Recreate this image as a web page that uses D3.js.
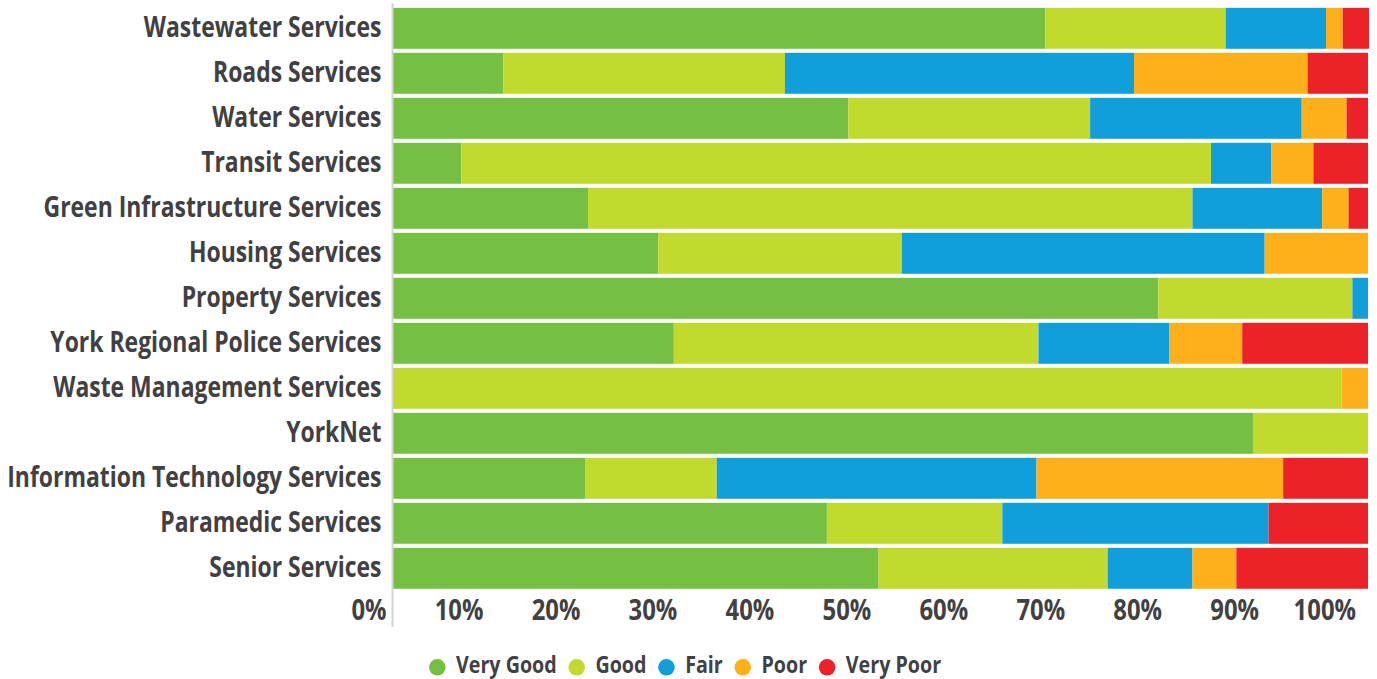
<!DOCTYPE html>
<html>
<head>
<meta charset="utf-8">
<script src="https://cdn.jsdelivr.net/npm/d3@7"></script>
<style>
  html, body { margin: 0; padding: 0; background: #ffffff; }
  svg { display: block; }
  text { font-family: "Open Sans", "Noto Sans", sans-serif; font-weight: 700; fill: #414042; }
</style>
</head>
<body>
<svg id="chart" width="1377" height="679"></svg>
<script>
// ---------- data ----------
const categories = [
  "Wastewater Services",
  "Roads Services",
  "Water Services",
  "Transit Services",
  "Green Infrastructure Services",
  "Housing Services",
  "Property Services",
  "York Regional Police Services",
  "Waste Management Services",
  "YorkNet",
  "Information Technology Services",
  "Paramedic Services",
  "Senior Services"
];
const seriesNames = ["Very Good", "Good", "Fair", "Poor", "Very Poor"];
const veryGood = [66.9, 11.3, 46.7, 7.0, 20.0, 27.2, 78.5, 28.8, 0.0, 88.2, 19.7, 44.5, 49.8];
const good     = [18.5, 28.9, 24.8, 76.9, 62.0, 25.0, 19.9, 37.4, 97.3, 11.8, 13.5, 18.0, 23.5];
const fair     = [10.3, 35.8, 21.7, 6.2, 13.3, 37.2, 1.6, 13.4, 0.0, 0.0, 32.8, 27.3, 8.7];
const poor     = [1.7, 17.8, 4.6, 4.3, 2.7, 10.6, 0.0, 7.5, 2.7, 0.0, 25.3, 0.0, 4.5];
const veryPoor = [2.7, 6.2, 2.2, 5.6, 2.0, 0.0, 0.0, 12.9, 0.0, 0.0, 8.7, 10.2, 13.5];
const tickValues = [0, 10, 20, 30, 40, 50, 60, 70, 80, 90, 100];
const colors = ["#75bf43", "#c2d92e", "#109fda", "#fdb019", "#ed2128"];

(function () {
// ---------- layout ----------
const svg = d3.select("#chart");
const mLeft = 393, mRight = 1368, mTop = 5.8, mBottom = 590.8;

const rows = categories.map((c, i) => ({
  cat: c, "Very Good": veryGood[i], "Good": good[i], "Fair": fair[i], "Poor": poor[i], "Very Poor": veryPoor[i]
}));
const stacked = d3.stack().keys(seriesNames)(rows);

const x = d3.scaleLinear().domain([0, 100]).range([mLeft, mRight]);
const y = d3.scaleBand().domain(categories).range([mTop, mBottom]).paddingInner(0.09).paddingOuter(0.045);
const color = d3.scaleOrdinal().domain(seriesNames).range(colors);

function condense(sel, k) {
  sel.each(function () {
    const w = this.getComputedTextLength();
    this.setAttribute("textLength", w * k);
    this.setAttribute("lengthAdjust", "spacingAndGlyphs");
  });
}

// bars
svg.append("g").selectAll("g").data(stacked).join("g")
  .attr("fill", d => color(d.key))
  .selectAll("rect").data(d => d).join("rect")
  .attr("x", d => x(d[0]))
  .attr("width", d => Math.max(0, x(d[1]) - x(d[0])))
  .attr("y", d => y(d.data.cat))
  .attr("height", y.bandwidth());

// vertical axis line
svg.append("line")
  .attr("x1", mLeft - 0.5).attr("x2", mLeft - 0.5)
  .attr("y1", 3).attr("y2", 627)
  .attr("stroke", "#d4d4d4").attr("stroke-width", 2);

// category labels
const catLabels = svg.append("g").selectAll("text").data(categories).join("text")
  .attr("x", mLeft - 11.5)
  .attr("y", d => y(d) + y.bandwidth() / 2 + 8.6)
  .attr("text-anchor", "end")
  .style("font-size", "29px")
  .text(d => d);
{
  const ref = catLabels.filter(d => d === "Wastewater Services").node().getComputedTextLength();
  condense(catLabels, 237.7 / ref);
}

// x axis
const xAxis = d3.axisBottom(x).tickValues(tickValues).tickSize(0).tickFormat(d => d + "%");
const gx = svg.append("g").attr("transform", `translate(0,${mBottom})`).call(xAxis);
gx.select(".domain").remove();
const tickTexts = gx.selectAll(".tick text")
  .attr("text-anchor", "end")
  .attr("dx", null)
  .attr("dy", null)
  .attr("x", d => -7 - d * 0.055)
  .attr("y", 29.4)
  .attr("fill", "#414042")
  .style("font-family", "'Open Sans', 'Noto Sans', sans-serif")
  .style("font-weight", 700)
  .style("font-size", "28px");
{
  const ref = tickTexts.filter(d => d === 100).node().getComputedTextLength();
  condense(tickTexts, 62.4 / ref);
}

// legend
const legend = svg.append("g");
const probe = legend.append("text").style("font-size", "24px").text("Very Good");
const kLeg = 100.7 / probe.node().getComputedTextLength();
probe.remove();
let cursor = 429;
seriesNames.forEach((name) => {
  legend.append("circle")
    .attr("cx", cursor + 8.3).attr("cy", 667.3).attr("r", 8.3)
    .attr("fill", color(name));
  const t = legend.append("text")
    .attr("x", cursor + 27).attr("y", 673)
    .style("font-size", "24px")
    .text(name);
  const w = t.node().getComputedTextLength();
  t.attr("textLength", w * kLeg).attr("lengthAdjust", "spacingAndGlyphs");
  cursor = cursor + 27 + w * kLeg + 11.7;
});
})();
</script>
</body>
</html>
